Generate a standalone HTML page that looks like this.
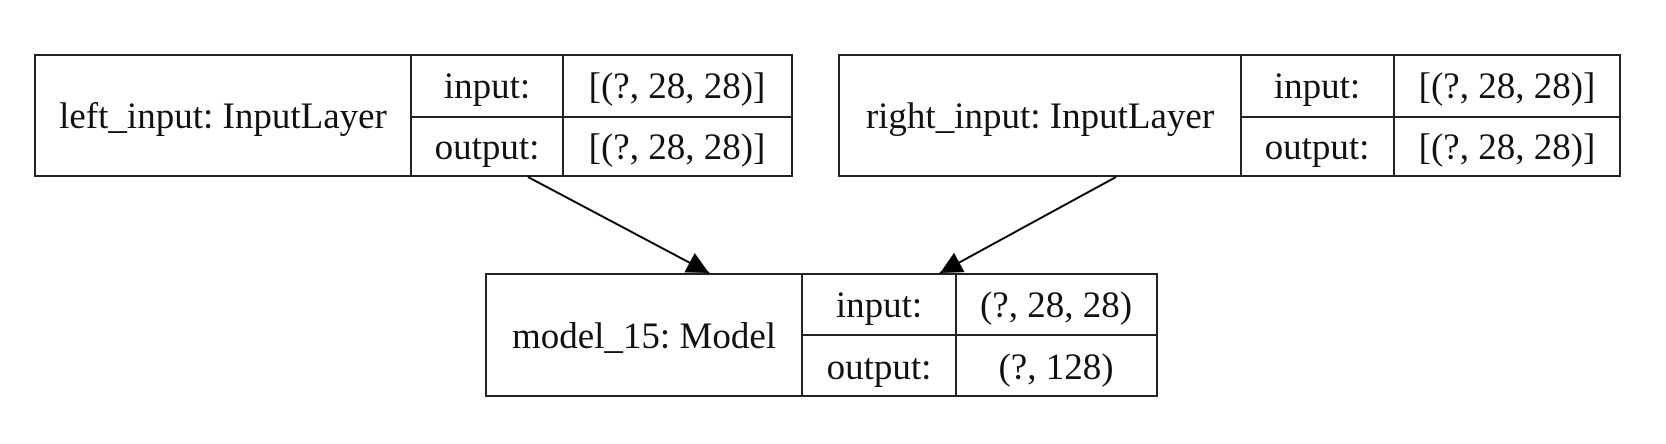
<!DOCTYPE html>
<html><head><meta charset="utf-8"><style>
html,body{margin:0;padding:0;background:#fff;}
svg{display:block;}
text{font-family:"Liberation Serif",serif;font-size:37px;fill:#111;}
</style></head><body>
<svg width="1666" height="444" viewBox="0 0 1666 444">
<defs><marker id="ah" viewBox="0 0 10 10" refX="10" refY="5" markerWidth="34" markerHeight="22" markerUnits="userSpaceOnUse" orient="auto"><path d="M0,0 L10,5 L0,10 z" fill="#000"/></marker></defs>
<g stroke="#222" stroke-width="2" fill="none">
<rect x="35" y="55" width="757" height="121"/><line x1="411" y1="55" x2="411" y2="176"/><line x1="563" y1="55" x2="563" y2="176"/><line x1="411" y1="117" x2="792" y2="117"/>
</g>
<text x="223" y="128" text-anchor="middle">left_input: InputLayer</text>
<text x="487" y="98" text-anchor="middle">input:</text>
<text x="487" y="159" text-anchor="middle">output:</text>
<text x="677" y="98" text-anchor="middle">[(?, 28, 28)]</text>
<text x="677" y="159" text-anchor="middle">[(?, 28, 28)]</text>

<g stroke="#222" stroke-width="2" fill="none">
<rect x="839" y="55" width="781" height="121"/><line x1="1241" y1="55" x2="1241" y2="176"/><line x1="1394" y1="55" x2="1394" y2="176"/><line x1="1241" y1="117" x2="1620" y2="117"/>
</g>
<text x="1040" y="128" text-anchor="middle">right_input: InputLayer</text>
<text x="1317" y="98" text-anchor="middle">input:</text>
<text x="1317" y="159" text-anchor="middle">output:</text>
<text x="1507" y="98" text-anchor="middle">[(?, 28, 28)]</text>
<text x="1507" y="159" text-anchor="middle">[(?, 28, 28)]</text>

<g stroke="#222" stroke-width="2" fill="none">
<rect x="486" y="274" width="671" height="122"/><line x1="802" y1="274" x2="802" y2="396"/><line x1="956" y1="274" x2="956" y2="396"/><line x1="802" y1="335" x2="1157" y2="335"/>
</g>
<text x="644" y="348" text-anchor="middle">model_15: Model</text>
<text x="879" y="317" text-anchor="middle">input:</text>
<text x="879" y="379" text-anchor="middle">output:</text>
<text x="1056" y="317" text-anchor="middle">(?, 28, 28)</text>
<text x="1056" y="379" text-anchor="middle">(?, 128)</text>

<line x1="528" y1="177" x2="709" y2="273" stroke="#000" stroke-width="2" marker-end="url(#ah)"/>
<line x1="1116" y1="177" x2="940" y2="273" stroke="#000" stroke-width="2" marker-end="url(#ah)"/>
</svg>
</body></html>
